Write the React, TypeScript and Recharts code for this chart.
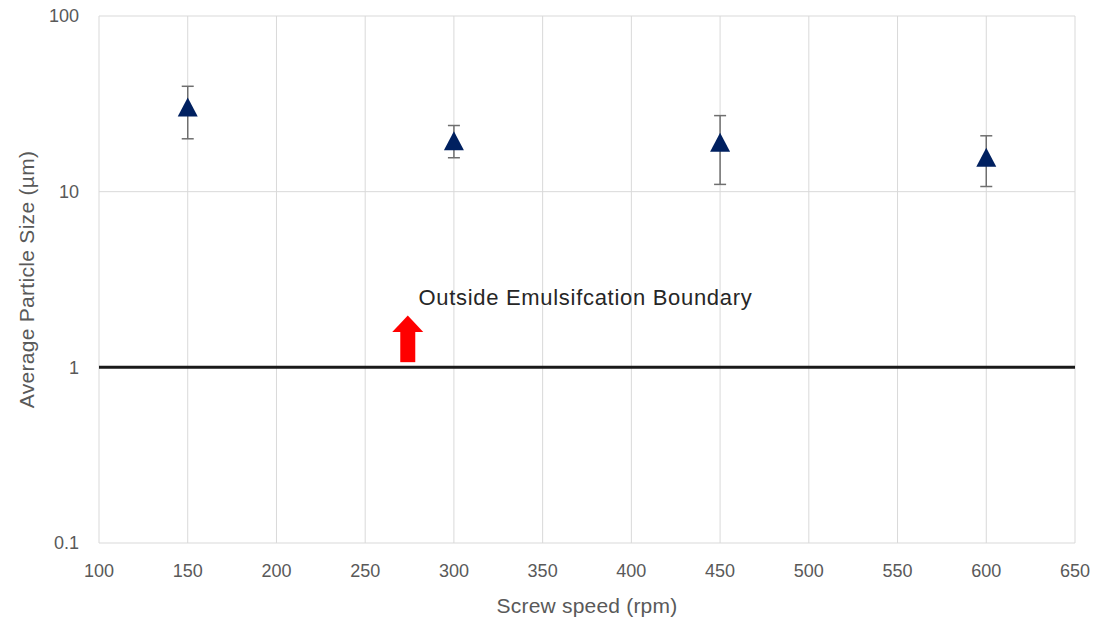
import React from "react";
import {
  ComposedChart,
  Scatter,
  XAxis,
  YAxis,
  CartesianGrid,
  ReferenceLine,
  ErrorBar,
} from "recharts";

// Screw speed (rpm) and measured particle size (µm) with min/max range
const speeds = [150, 300, 450, 600];
const sizeMean = [30.3, 19.5, 19.1, 15.7];
const sizeLow = [20.0, 15.6, 11.0, 10.7];
const sizeHigh = [39.8, 23.8, 27.1, 20.8];

const xTicks = [100, 150, 200, 250, 300, 350, 400, 450, 500, 550, 600, 650];
const yTicks = [0.1, 1, 10, 100];

// Emulsification boundary and its annotation
const boundaryValue = 1;
const arrowX = 274;
const arrowBase = 1.07;
const arrowHeadBase = 1.6;
const noteX = 280;
const noteY = 2.5;
const noteText = "Outside Emulsifcation Boundary";

const points = speeds.map((s, i) => ({
  x: s,
  y: sizeMean[i],
  err: [sizeMean[i] - sizeLow[i], sizeHigh[i] - sizeMean[i]],
}));

const arrowPoints = [
  { x: arrowX, y: arrowBase, head: false },
  { x: arrowX, y: arrowHeadBase, head: true },
];

const notePoints = [{ x: noteX, y: noteY, text: noteText }];

const FONT = "'Liberation Sans', Arial, sans-serif";
const GREY = "#595959";

const Triangle = (props: any) => {
  const { cx, cy } = props;
  if (cx == null || cy == null) return null;
  const w = 20;
  const h = 19;
  return (
    <polygon
      points={`${cx},${cy - h / 2} ${cx + w / 2},${cy + h / 2} ${cx - w / 2},${cy + h / 2}`}
      fill="#002060"
    />
  );
};

const ArrowHead = (props: any) => {
  const { cx, cy, payload } = props;
  if (!payload || !payload.head) return null;
  return (
    <polygon
      points={`${cx},${cy - 16} ${cx + 15.5},${cy + 0.5} ${cx - 15.5},${cy + 0.5}`}
      fill="#ff0000"
    />
  );
};

const NoteText = (props: any) => {
  const { cx, cy, payload } = props;
  return (
    <text
      x={cx}
      y={cy}
      dominantBaseline="central"
      textAnchor="start"
      fontFamily={FONT}
      fontSize={22}
      letterSpacing={0.7}
      fill="#262626"
    >
      {payload.text}
    </text>
  );
};

const YTitle = (props: any) => {
  const { viewBox } = props;
  const x = viewBox.x + 26;
  const y = viewBox.y + viewBox.height / 2;
  return (
    <text
      x={x}
      y={y}
      transform={`rotate(-90, ${x}, ${y})`}
      textAnchor="middle"
      dominantBaseline="central"
      fontFamily={FONT}
      fontSize={21}
      letterSpacing={0.3}
      fill={GREY}
    >
      Average Particle Size (µm)
    </text>
  );
};

const XTitle = (props: any) => {
  const { viewBox } = props;
  return (
    <text
      x={viewBox.x + viewBox.width / 2}
      y={viewBox.y + 62}
      textAnchor="middle"
      dominantBaseline="central"
      fontFamily={FONT}
      fontSize={21}
      letterSpacing={0.2}
      fill={GREY}
    >
      Screw speed (rpm)
    </text>
  );
};

export default function App() {
  return (
    <div
      style={{
        position: "fixed",
        left: 0,
        top: 0,
        width: 1094,
        height: 619,
        background: "#fff",
      }}
    >
      <ComposedChart
        width={1094}
        height={619}
        margin={{ top: 16, right: 19, left: 0, bottom: 0 }}
      >
        <CartesianGrid stroke="#d9d9d9" strokeWidth={1} />
        <XAxis
          type="number"
          dataKey="x"
          domain={[100, 650]}
          ticks={xTicks}
          allowDataOverflow
          axisLine={false}
          tickLine={false}
          tickSize={0}
          tickMargin={21}
          height={76}
          tick={{ fill: GREY, fontSize: 18, fontFamily: FONT }}
          label={<XTitle />}
        />
        <YAxis
          type="number"
          dataKey="y"
          scale="log"
          domain={[0.1, 100]}
          ticks={yTicks}
          allowDataOverflow
          axisLine={false}
          tickLine={false}
          tickSize={0}
          tickMargin={20}
          width={99}
          tick={{ fill: GREY, fontSize: 18, fontFamily: FONT }}
          tickFormatter={(v: number) => String(v)}
          label={<YTitle />}
        />
        <ReferenceLine y={boundaryValue} stroke="#1a1a1a" strokeWidth={3} />
        <Scatter
          data={arrowPoints}
          dataKey="y"
          isAnimationActive={false}
          line={{ stroke: "#ff0000", strokeWidth: 15 }}
          shape={<ArrowHead />}
        />
        <Scatter
          data={notePoints}
          dataKey="y"
          isAnimationActive={false}
          shape={<NoteText />}
        />
        <Scatter
          data={points}
          dataKey="y"
          isAnimationActive={false}
          shape={<Triangle />}
        >
          <ErrorBar
            dataKey="err"
            direction="y"
            width={6}
            stroke="#6f6f6f"
            strokeWidth={1.5}
          />
        </Scatter>
      </ComposedChart>
    </div>
  );
}
